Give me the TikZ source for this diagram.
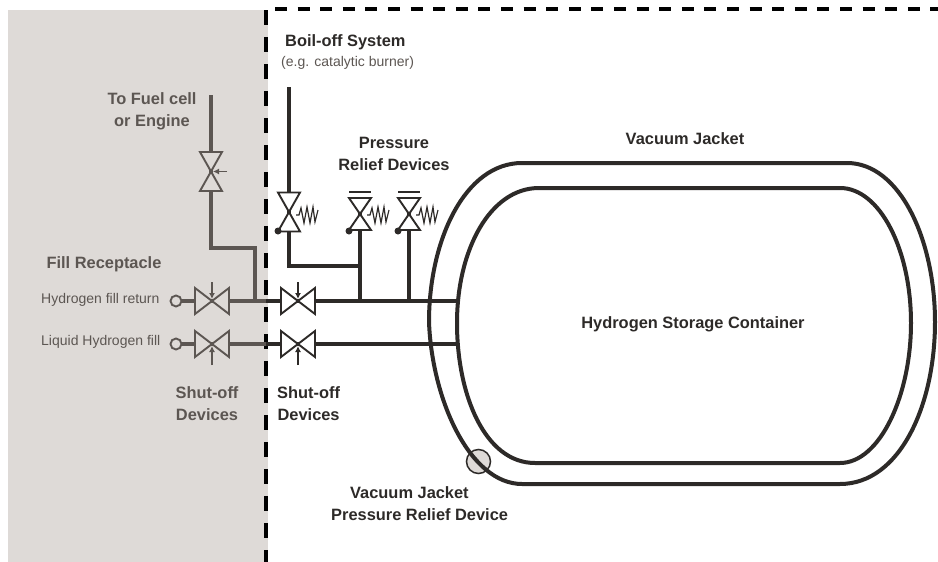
\documentclass[tikz,border=0pt]{standalone}
\usepackage{fontspec}
\setmainfont{Liberation Sans}
\usepackage{tikz}
\usetikzlibrary{arrows.meta,positioning,calc}

\definecolor{panelgrey}{RGB}{222,218,215}
\definecolor{pipedark}{RGB}{45,42,40}
\definecolor{pipegrey}{RGB}{92,86,82}

\begin{document}
\begin{tikzpicture}[
    x=1pt, y=-1pt,
    title/.style={font=\bfseries\fontsize{16.4}{22}\selectfont, align=center, text=pipedark, inner sep=0pt},
    titlegrey/.style={title, text=pipegrey},
    small/.style={font=\fontsize{14}{16}\selectfont, text=pipegrey, inner sep=0pt},
    pipe/.style={line width=4pt, draw=pipedark},
    greypipe/.style={line width=4pt, draw=pipegrey},
    wall/.style={line width=4pt, draw=pipedark},
    valve/.style={line width=1.9pt, line join=miter},
    actuator/.style={line width=1.4pt, shorten >=2pt, -{Latex[length=6pt,width=6pt]}},
    port/.style={circle, draw=pipegrey, line width=1.9pt, fill=panelgrey, minimum size=11pt, inner sep=0pt},
    pics/hvalve/.style={code={
        \draw[valve, pic actions] (-17,-13) -- (17,13) -- (17,-13) -- (-17,13) -- cycle;
    }},
    pics/vvalve/.style={code={
        \draw[valve, pic actions] (-11,-19.5) -- (11,-19.5) -- (-11,19.5) -- (11,19.5) -- cycle;
    }},
    pics/reliefvalve/.style={code={
        \draw[valve, pic actions] (-11,-14) -- (11,-14) -- (-11,18) -- (11,18) -- cycle;
        \draw[valve, pic actions] (-11,-20) -- (11,-20);
    }},
    pics/springdot/.style={code={
        \draw[line width=1.2pt, draw=pipedark] (7,3) -- (10,3) -- (12,-4) -- (15,11) -- (18,-5) -- (21,11) -- (24,-5) -- (26,10) -- (29,-2);
        \fill[pipedark] (-11,19) circle (3.5pt);
    }}
]
\useasboundingbox (0,0) rectangle (938,562);
\fill[panelgrey] (8,10) rectangle (267.5,562);
\draw[line width=3.2pt, dash pattern=on 15pt off 12pt] (266,10) -- (266,562);
\draw[line width=3.2pt, dash pattern=on 12pt off 10.6pt] (275,9) -- (938,9);

% junctions and ends
\coordinate (returnvalve) at (212,301);
\coordinate (fillvalve) at (212,344);
\coordinate (returnedge) at (266,301);
\coordinate (filledge) at (266,344);
\coordinate (innerreturn) at (298,301);
\coordinate (innerfill) at (298,344);
\coordinate (tankreturn) at (456,301);
\coordinate (tankfill) at (456,344);
\coordinate (teeout) at (255,301);
\coordinate (fuelelbow) at (255,248);
\coordinate (fuelvalve) at (211,171.5);
\coordinate (fueltop) at (211,95);
\coordinate (boilvalve) at (289,212);
\coordinate (boiltop) at (289,87);
\coordinate (boiltee) at (360,266);
\coordinate (reliefa) at (360,212);
\coordinate (reliefb) at (409,212);
\coordinate (reliefatee) at (360,301);
\coordinate (reliefbtee) at (409,301);

% relief device on jacket, the wall runs over it
\node[circle, draw=pipedark, line width=1.5pt, fill=panelgrey, minimum size=24pt, inner sep=0pt] (jacketrelief) at (478.5,461.5) {};

% vessel
\draw[wall] (522,163) -- (847,163) .. controls (900,163) and (935,240) .. (935,322)
    .. controls (935,405) and (900,484) .. (840,484) -- (522,484)
    .. controls (470,484) and (432,400) .. (429,322) .. controls (429,240) and (465,163) .. (522,163) -- cycle;
\draw[wall] (539,188) -- (840,188) .. controls (880,188) and (911,250) .. (911,323)
    .. controls (911,395) and (880,463) .. (840,463) -- (535,463)
    .. controls (485,463) and (457,395) .. (457,323) .. controls (457,250) and (490,188) .. (539,188) -- cycle;

% pipes
\node[port] (returnport) at (176,301) {};
\node[port] (fillport) at (176,344) {};
\draw[greypipe] (returnport) -- (returnvalve) -- (returnedge);
\draw[greypipe] (fillport) -- (fillvalve) -- (filledge);
\draw[greypipe] (fueltop) -- (fuelvalve);
\draw[greypipe] (fuelvalve) |- (fuelelbow) -- (teeout);
\draw[pipe] (boiltop) -- (boilvalve);
\draw[pipe] (boilvalve) |- (boiltee);
\draw[pipe] (reliefa) -- (reliefatee);
\draw[pipe] (reliefb) -- (reliefbtee);
\draw[pipe] (returnedge) -- (innerreturn) -- (tankreturn);
\draw[pipe] (filledge) -- (innerfill) -- (tankfill);

% valves
\pic[draw=pipegrey, fill=panelgrey] at (returnvalve) {hvalve};
\pic[draw=pipegrey, fill=panelgrey] at (fillvalve) {hvalve};
\pic[draw=pipedark, fill=white] at (innerreturn) {hvalve};
\pic[draw=pipedark, fill=white] at (innerfill) {hvalve};
\pic[draw=pipegrey, fill=panelgrey] at (fuelvalve) {vvalve};
\pic[draw=pipedark, fill=white] at (boilvalve) {vvalve};
\pic[draw=pipedark, fill=white] at (reliefa) {reliefvalve};
\pic[draw=pipedark, fill=white] at (reliefb) {reliefvalve};
\pic at (boilvalve) {springdot};
\pic at (reliefa) {springdot};
\pic at (reliefb) {springdot};

% actuators
\draw[actuator, pipegrey] ($(fuelvalve)+(16,0)$) -- (fuelvalve);
\draw[actuator, pipegrey] ($(returnvalve)+(0,-19)$) -- (returnvalve);
\draw[actuator, pipegrey] ($(fillvalve)+(0,21)$) -- (fillvalve);
\draw[actuator, pipedark] ($(innerreturn)+(0,-19)$) -- (innerreturn);
\draw[actuator, pipedark] ($(innerfill)+(0,21)$) -- (innerfill);

% labels
\node[titlegrey] (fuel) at (152,111) {To Fuel cell\\or Engine};
\node[titlegrey] (receptacle) at (104,264) {Fill Receptacle};
\node[small, anchor=west] (returnlabel) at (41,300) {Hydrogen fill return};
\node[small, anchor=west] (filllabel) at (41,342) {Liquid Hydrogen fill};
\node[titlegrey] (shutleft) at (207,404) {Shut-off\\Devices};
\node[title, anchor=west] (shutright) at (277,404) {Shut-off\\Devices};
\node[title, anchor=west] (boil) at (285,42) {Boil-off System};
\node[small, anchor=west] (burner) at (281,63) {(e.g. catalytic burner)};
\node[title] (relief) at (394,154) {Pressure\\Relief Devices};
\node[title] (jacket) at (685,139) {Vacuum Jacket};
\node[title] (storage) at (693,324) {Hydrogen Storage Container};
\node[title, anchor=west, align=left] (jacketlabel) at (331,504) {\hspace*{19pt}Vacuum Jacket\\Pressure Relief Device};
\end{tikzpicture}
\end{document}
